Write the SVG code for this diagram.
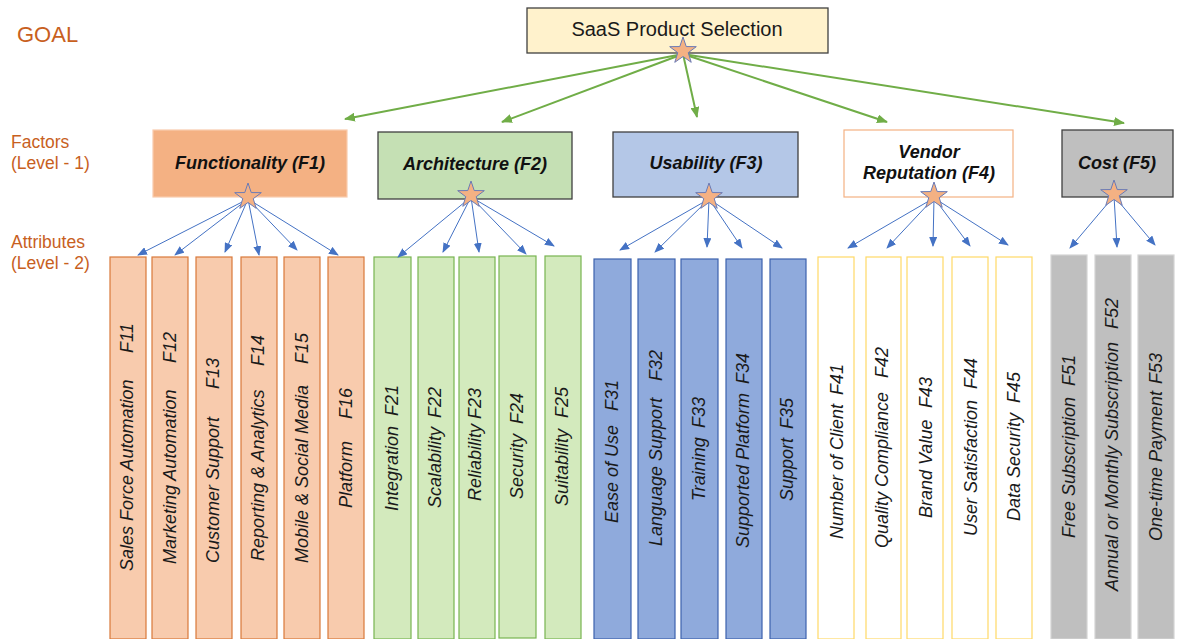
<svg xmlns="http://www.w3.org/2000/svg" width="1181" height="639" viewBox="0 0 1181 639">
  <style>
    .lbl { font-family: "Liberation Sans", Arial, sans-serif; fill: #c8601e; font-size: 17.5px; }
    .goal { font-size: 22px; }
    .title { font-family: "Liberation Sans", Arial, sans-serif; font-size: 20px; fill: #1a1a1a; text-anchor: middle; }
    .fac { font-family: "Liberation Sans", Arial, sans-serif; font-size: 18px; font-weight: bold; font-style: italic; fill: #111; text-anchor: middle; }
    .att { font-family: "Liberation Sans", Arial, sans-serif; font-size: 18px; font-style: italic; fill: #1a1a1a; }
    .g1 { fill: #f8cbad; stroke: #d9793a; stroke-width: 1.2; }
    .g2 { fill: #d3eabd; stroke: #78b450; stroke-width: 1.2; }
    .g3 { fill: #8faadc; stroke: #3c62ad; stroke-width: 1.2; }
    .g4 { fill: #ffffff; stroke: #ffd966; stroke-width: 1.2; }
    .g5 { fill: #bfbfbf; stroke: #d4d4d4; stroke-width: 1.2; }
    .top { fill: #fff2cc; stroke: #404040; stroke-width: 1.3; }
    .green { stroke: #70ad47; stroke-width: 2; fill: none; marker-end: url(#ah-green); }
    .blue { stroke: #4472c4; stroke-width: 1; fill: none; marker-end: url(#ah-blue); }
    .star { fill: #f4b183; stroke: #6b7bb6; stroke-width: 1; }
  </style>
  <defs>
    <marker id="ah-green" markerUnits="userSpaceOnUse" markerWidth="11" markerHeight="9" refX="10" refY="4.5" orient="auto">
      <path d="M0,0 L11,4.5 L0,9 Z" fill="#70ad47"/>
    </marker>
    <marker id="ah-blue" markerUnits="userSpaceOnUse" markerWidth="10" markerHeight="8" refX="9" refY="4" orient="auto">
      <path d="M0,0 L10,4 L0,8 Z" fill="#4472c4"/>
    </marker>
    <path id="star" d="M0,-14 L3.23,-4.45 L13.31,-4.33 L5.23,1.7 L8.23,11.33 L0,5.5 L-8.23,11.33 L-5.23,1.7 L-13.31,-4.33 L-3.23,-4.45 Z"/>
  </defs>

  <!-- level captions -->
  <g id="captions">
    <text class="lbl goal" x="17" y="42">GOAL</text>
    <text class="lbl" x="11" y="148">Factors</text>
    <text class="lbl" x="11" y="169">(Level - 1)</text>
    <text class="lbl" x="11" y="248">Attributes</text>
    <text class="lbl" x="11" y="269">(Level - 2)</text>
  </g>

  <!-- goal -->
  <g id="goal">
    <rect class="top" x="527" y="8" width="301" height="45"/>
    <text class="title" x="677" y="36">SaaS Product Selection</text>
  </g>

  <!-- factors -->
  <g id="f1">
    <rect x="153" y="130" width="194" height="67" fill="#f4b183" stroke="#f8cbad" stroke-width="1.2"/>
    <text class="fac" x="250" y="169">Functionality (F1)</text>
  </g>
  <g id="f2">
    <rect x="378" y="132" width="194" height="67" fill="#c5e0b4" stroke="#404040" stroke-width="1.3"/>
    <text class="fac" x="475" y="170">Architecture (F2)</text>
  </g>
  <g id="f3">
    <rect x="613" y="132" width="185" height="65" fill="#b4c7e7" stroke="#404040" stroke-width="1.3"/>
    <text class="fac" x="706" y="169">Usability (F3)</text>
  </g>
  <g id="f4">
    <rect x="844" y="130" width="169" height="67" fill="#ffffff" stroke="#f4b183" stroke-width="1.2"/>
    <text class="fac" x="929" y="158">Vendor</text>
    <text class="fac" x="929" y="179">Reputation (F4)</text>
  </g>
  <g id="f5">
    <rect x="1062" y="130" width="111" height="67" fill="#bfbfbf" stroke="#404040" stroke-width="1.3"/>
    <text class="fac" x="1117" y="169">Cost (F5)</text>
  </g>

  <!-- attributes of F1 -->
  <g id="f11"><rect class="g1" x="110" y="257" width="36" height="382"/>
    <text class="att" transform="translate(133,571) rotate(-90)">Sales Force Automation</text>
    <text class="att" transform="translate(133,353) rotate(-90)">F11</text></g>
  <g id="f12"><rect class="g1" x="152" y="257" width="36" height="382"/>
    <text class="att" transform="translate(176,564) rotate(-90)">Marketing Automation</text>
    <text class="att" transform="translate(176,363) rotate(-90)">F12</text></g>
  <g id="f13"><rect class="g1" x="196" y="257" width="36" height="382"/>
    <text class="att" transform="translate(219,563) rotate(-90)">Customer Support</text>
    <text class="att" transform="translate(219,389) rotate(-90)">F13</text></g>
  <g id="f14"><rect class="g1" x="241" y="257" width="36" height="382"/>
    <text class="att" transform="translate(264,561) rotate(-90)">Reporting &amp; Analytics</text>
    <text class="att" transform="translate(264,366) rotate(-90)">F14</text></g>
  <g id="f15"><rect class="g1" x="284" y="257" width="36" height="382"/>
    <text class="att" transform="translate(308,563) rotate(-90)">Mobile &amp; Social Media</text>
    <text class="att" transform="translate(308,364) rotate(-90)">F15</text></g>
  <g id="f16"><rect class="g1" x="328" y="257" width="36" height="382"/>
    <text class="att" transform="translate(352,508) rotate(-90)">Platform</text>
    <text class="att" transform="translate(352,419) rotate(-90)">F16</text></g>

  <!-- attributes of F2 -->
  <g id="f21"><rect class="g2" x="374" y="257" width="37" height="382"/>
    <text class="att" transform="translate(398,511) rotate(-90)">Integration</text>
    <text class="att" transform="translate(398,416) rotate(-90)">F21</text></g>
  <g id="f22"><rect class="g2" x="418" y="257" width="36" height="382"/>
    <text class="att" transform="translate(441,508) rotate(-90)">Scalability</text>
    <text class="att" transform="translate(441,418) rotate(-90)">F22</text></g>
  <g id="f23"><rect class="g2" x="459" y="257" width="36" height="382"/>
    <text class="att" transform="translate(481,501) rotate(-90)">Reliability</text>
    <text class="att" transform="translate(481,419) rotate(-90)">F23</text></g>
  <g id="f24"><rect class="g2" x="499" y="256" width="37" height="382"/>
    <text class="att" transform="translate(523,499) rotate(-90)">Security</text>
    <text class="att" transform="translate(523,424) rotate(-90)">F24</text></g>
  <g id="f25"><rect class="g2" x="545" y="256" width="36" height="383"/>
    <text class="att" transform="translate(568,506) rotate(-90)">Suitability</text>
    <text class="att" transform="translate(568,418) rotate(-90)">F25</text></g>

  <!-- attributes of F3 -->
  <g id="f31"><rect class="g3" x="594" y="259" width="37" height="380"/>
    <text class="att" transform="translate(618,523) rotate(-90)">Ease of Use</text>
    <text class="att" transform="translate(618,411) rotate(-90)">F31</text></g>
  <g id="f32"><rect class="g3" x="638" y="259" width="37" height="380"/>
    <text class="att" transform="translate(662,546) rotate(-90)">Language Support</text>
    <text class="att" transform="translate(662,381) rotate(-90)">F32</text></g>
  <g id="f33"><rect class="g3" x="681" y="259" width="37" height="380"/>
    <text class="att" transform="translate(705,501) rotate(-90)">Training</text>
    <text class="att" transform="translate(705,428) rotate(-90)">F33</text></g>
  <g id="f34"><rect class="g3" x="726" y="259" width="36" height="380"/>
    <text class="att" transform="translate(749,548) rotate(-90)">Supported Platform</text>
    <text class="att" transform="translate(749,384) rotate(-90)">F34</text></g>
  <g id="f35"><rect class="g3" x="770" y="259" width="36" height="380"/>
    <text class="att" transform="translate(793,501) rotate(-90)">Support</text>
    <text class="att" transform="translate(793,429) rotate(-90)">F35</text></g>

  <!-- attributes of F4 -->
  <g id="f41"><rect class="g4" x="818" y="257" width="36" height="382"/>
    <text class="att" transform="translate(843,539) rotate(-90)">Number of Client</text>
    <text class="att" transform="translate(843,395) rotate(-90)">F41</text></g>
  <g id="f42"><rect class="g4" x="866" y="257" width="35" height="382"/>
    <text class="att" transform="translate(888,548) rotate(-90)">Quality Compliance</text>
    <text class="att" transform="translate(888,378) rotate(-90)">F42</text></g>
  <g id="f43"><rect class="g4" x="907" y="257" width="36" height="382"/>
    <text class="att" transform="translate(932,518) rotate(-90)">Brand Value</text>
    <text class="att" transform="translate(932,408) rotate(-90)">F43</text></g>
  <g id="f44"><rect class="g4" x="952" y="257" width="36" height="382"/>
    <text class="att" transform="translate(977,536) rotate(-90)">User Satisfaction</text>
    <text class="att" transform="translate(977,389) rotate(-90)">F44</text></g>
  <g id="f45"><rect class="g4" x="996" y="257" width="36" height="382"/>
    <text class="att" transform="translate(1020,521) rotate(-90)">Data Security</text>
    <text class="att" transform="translate(1020,403) rotate(-90)">F45</text></g>

  <!-- attributes of F5 -->
  <g id="f51"><rect class="g5" x="1051" y="255" width="36" height="384"/>
    <text class="att" transform="translate(1075,538) rotate(-90)">Free Subscription</text>
    <text class="att" transform="translate(1075,386) rotate(-90)">F51</text></g>
  <g id="f52"><rect class="g5" x="1095" y="255" width="36" height="384"/>
    <text class="att" transform="translate(1118,591) rotate(-90)">Annual or Monthly Subscription</text>
    <text class="att" transform="translate(1118,329) rotate(-90)">F52</text></g>
  <g id="f53"><rect class="g5" x="1138" y="255" width="36" height="384"/>
    <text class="att" transform="translate(1162,541) rotate(-90)">One-time Payment</text>
    <text class="att" transform="translate(1162,384) rotate(-90)">F53</text></g>

  <!-- connectors -->
  <g id="connectors">
    <line class="green" x1="683" y1="54" x2="345" y2="119"/>
    <line class="green" x1="683" y1="54" x2="502" y2="122"/>
    <line class="green" x1="683" y1="54" x2="697" y2="117"/>
    <line class="green" x1="683" y1="54" x2="887" y2="122"/>
    <line class="green" x1="683" y1="54" x2="1124" y2="123"/>

    <line class="blue" x1="248" y1="199" x2="138" y2="255"/>
    <line class="blue" x1="248" y1="199" x2="175" y2="255"/>
    <line class="blue" x1="248" y1="199" x2="225" y2="252"/>
    <line class="blue" x1="248" y1="199" x2="259" y2="255"/>
    <line class="blue" x1="248" y1="199" x2="297" y2="250"/>
    <line class="blue" x1="248" y1="199" x2="338" y2="255"/>

    <line class="blue" x1="471" y1="197" x2="398" y2="257"/>
    <line class="blue" x1="471" y1="197" x2="443" y2="252"/>
    <line class="blue" x1="471" y1="197" x2="479" y2="252"/>
    <line class="blue" x1="471" y1="197" x2="526" y2="254"/>
    <line class="blue" x1="471" y1="197" x2="554" y2="246"/>

    <line class="blue" x1="709" y1="199" x2="620" y2="250"/>
    <line class="blue" x1="709" y1="199" x2="655" y2="252"/>
    <line class="blue" x1="709" y1="199" x2="707" y2="247"/>
    <line class="blue" x1="709" y1="199" x2="742" y2="248"/>
    <line class="blue" x1="709" y1="199" x2="782" y2="248"/>

    <line class="blue" x1="934" y1="198" x2="848" y2="248"/>
    <line class="blue" x1="934" y1="198" x2="887" y2="248"/>
    <line class="blue" x1="934" y1="198" x2="933" y2="246"/>
    <line class="blue" x1="934" y1="198" x2="970" y2="246"/>
    <line class="blue" x1="934" y1="198" x2="1008" y2="245"/>

    <line class="blue" x1="1114" y1="196" x2="1070" y2="248"/>
    <line class="blue" x1="1114" y1="196" x2="1117" y2="247"/>
    <line class="blue" x1="1114" y1="196" x2="1155" y2="245"/>
  </g>

  <!-- anchor stars -->
  <g id="anchors">
    <use href="#star" class="star" transform="translate(683,51)"/>
    <use href="#star" class="star" transform="translate(248,197)"/>
    <use href="#star" class="star" transform="translate(471,195)"/>
    <use href="#star" class="star" transform="translate(709,197)"/>
    <use href="#star" class="star" transform="translate(934,196)"/>
    <use href="#star" class="star" transform="translate(1114,194)"/>
  </g>
</svg>
